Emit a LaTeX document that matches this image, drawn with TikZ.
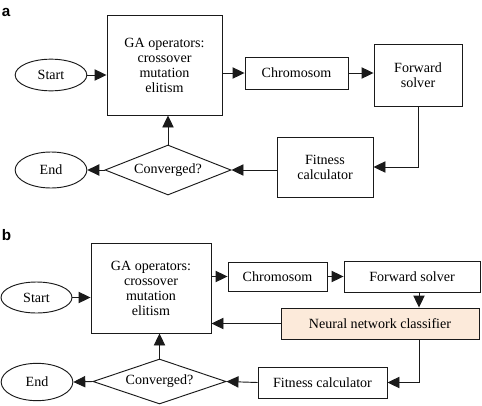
\documentclass[tikz,border=0pt]{standalone}
\usepackage{fontspec}
\setmainfont{Liberation Serif}
\setsansfont{Liberation Sans}
\definecolor{LineBlack}{HTML}{1A1A1A}
\definecolor{SoftPeach}{HTML}{FCEADA}
\usetikzlibrary{arrows.meta, shapes.geometric}
\tikzset{
  box/.style={draw=LineBlack, line width=0.8pt, fill=white, align=center, inner sep=2pt, font=\fontsize{12}{12.8}\selectfont},
  ovalbox/.style={box, ellipse, minimum width=2.15cm, minimum height=0.95cm},
  testbox/.style={box, diamond, shape aspect=2.9, inner sep=0pt},
  flow/.style={-{Triangle[length=3.6mm, width=3.4mm]}, line width=0.8pt, draw=LineBlack}
}

\begin{document}
\begin{tikzpicture}[
  panel/.style={font=\sffamily\bfseries\fontsize{13}{13}\selectfont, inner sep=0pt, anchor=west}
]
\useasboundingbox (0,0) rectangle (14.46,-12.15);

% panel a: plain GA loop
\node[panel] (taga) at (0.05,-0.36) {a};
\node[box, minimum width=3.45cm, minimum height=3.0cm] (gaa) at (4.935,-1.95) {GA operators:\\crossover\\mutation\\elitism};
\node[ovalbox] (starta) at (1.53,-2.25) {Start};
\node[box, minimum width=3.09cm, minimum height=0.96cm] (chroma) at (8.895,-2.19) {Chromosom};
\node[box, minimum width=2.64cm, minimum height=1.86cm] (fwda) at (12.54,-2.25) {Forward\\solver};
\node[box, minimum width=2.88cm, minimum height=1.8cm] (fita) at (9.75,-5.01) {Fitness\\calculator};
\node[testbox, minimum width=3.78cm, minimum height=1.5cm] (conva) at (5.04,-5.1) {Converged?};
\node[ovalbox, minimum height=1.08cm] (enda) at (1.53,-5.1) {End};

\draw[flow] (starta.east) -- (starta.east -| gaa.west);
\draw[flow] (gaa.east |- chroma) -- (chroma.west);
\draw[flow] (chroma.east) -- (chroma.east -| fwda.west);
\draw[flow] (fwda.south) |- (fita.east);
\draw[flow] (fita.west |- conva.east) -- (conva.east);
\draw[flow] (conva.north) -- (conva.north |- gaa.south);
\draw[flow] (conva.west) -- (enda.east);

% panel b: with the classifier
\node[panel] (tagb) at (0.05,-7.05) {b};
\node[box, minimum width=3.6cm, minimum height=2.7cm] (gab) at (4.53,-8.64) {GA operators:\\crossover\\mutation\\elitism};
\node[ovalbox, minimum width=2.13cm, minimum height=0.93cm] (startb) at (1.095,-8.925) {Start};
\node[box, minimum width=2.97cm, minimum height=0.87cm] (chromb) at (8.325,-8.295) {Chromosom};
\node[box, minimum width=4.08cm, minimum height=0.93cm] (fwdb) at (12.36,-8.295) {Forward solver};
\node[box, fill=SoftPeach, minimum width=5.94cm, minimum height=0.93cm] (nnb) at (11.4,-9.705) {Neural network classifier};
\node[box, minimum width=3.87cm, minimum height=0.93cm] (fitb) at (9.675,-11.475) {Fitness calculator};
\node[testbox, minimum width=3.99cm, minimum height=1.35cm] (convb) at (4.785,-11.445) {Converged?};
\node[ovalbox, minimum height=1.12cm] (endb) at (1.11,-11.46) {End};
\coordinate (drop) at (12.57,-9.7);

\draw[flow] (startb.east) -- (startb.east -| gab.west);
\draw[flow] (gab.east |- chromb) -- (chromb.west);
\draw[flow] (chromb.east) -- (fwdb.west);
\draw[flow] (fwdb.south -| drop) -- (nnb.north -| drop);
\draw[flow] (nnb.west) -- (nnb.west -| gab.east);
\draw[flow] (nnb.south -| drop) |- (fitb.east);
\draw[flow] (fitb.west) -- (convb.east);
\draw[flow] (convb.north) -- (convb.north |- gab.south);
\draw[flow] (convb.west) -- (endb.east);
\end{tikzpicture}
\end{document}
